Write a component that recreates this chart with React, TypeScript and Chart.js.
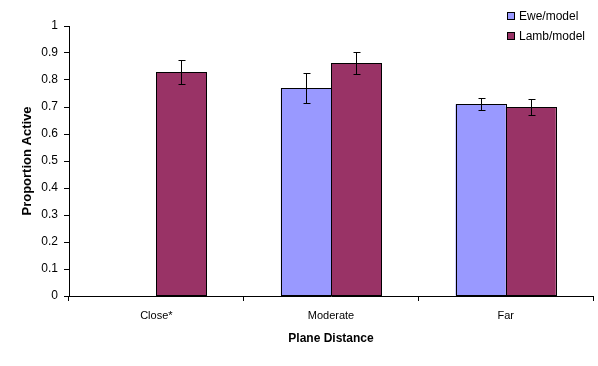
import React, { useEffect, useRef } from "react";
import { Chart, registerables } from "chart.js";

Chart.register(...registerables);

const categories = ["Close*", "Moderate", "Far"];
const seriesNames = ["Ewe/model", "Lamb/model"];
const eweValues = [null, 0.77, 0.71];
const lambValues = [0.83, 0.862, 0.7];
const eweErrors = [null, 0.055, 0.022];
const lambErrors = [0.043, 0.041, 0.028];
const colors = ["#9999FF", "#993366"];
const FONT = "'Liberation Sans', Arial, sans-serif";

const errorBarPlugin = {
  id: "errorBars",
  afterDatasetsDraw(chart: any) {
    const ctx = chart.ctx;
    const yScale = chart.scales.y;
    const errs = [eweErrors, lambErrors];
    ctx.save();
    ctx.strokeStyle = "#000";
    ctx.lineWidth = 1;
    // crisp bar outlines
    chart.data.datasets.forEach((ds: any, di: number) => {
      const meta = chart.getDatasetMeta(di);
      meta.data.forEach((bar: any, i: number) => {
        if (ds.data[i] == null) return;
        const l = Math.round(bar.x - bar.width / 2) + 0.5;
        const r = Math.round(bar.x + bar.width / 2) + 0.5;
        const t = Math.round(bar.y) + 0.5;
        const b = Math.round(bar.base) - 0.5;
        ctx.strokeRect(l, t, r - l, b - t);
      });
    });
    chart.data.datasets.forEach((ds: any, di: number) => {
      const meta = chart.getDatasetMeta(di);
      meta.data.forEach((bar: any, i: number) => {
        const v = ds.data[i];
        const e = errs[di][i];
        if (v == null || e == null) return;
        const x = Math.round(bar.x) + 0.5;
        const yt = Math.round(yScale.getPixelForValue(v + e)) + 0.5;
        const yb = Math.round(yScale.getPixelForValue(v - e)) + 0.5;
        ctx.beginPath();
        ctx.moveTo(x, yt);
        ctx.lineTo(x, yb);
        ctx.moveTo(x - 3, yt);
        ctx.lineTo(x + 4, yt);
        ctx.moveTo(x - 3, yb);
        ctx.lineTo(x + 4, yb);
        ctx.stroke();
      });
    });
    ctx.restore();
  },
};

const legendPlugin = {
  id: "customLegend",
  afterDraw(chart: any) {
    const ctx = chart.ctx;
    ctx.save();
    ctx.font = `12px ${FONT}`;
    ctx.textBaseline = "middle";
    seriesNames.forEach((name, i) => {
      const cy = 16 + i * 20;
      ctx.fillStyle = colors[i];
      ctx.fillRect(508, cy - 3, 6, 6);
      ctx.strokeStyle = "#000";
      ctx.lineWidth = 1;
      ctx.strokeRect(507.5, cy - 3.5, 7, 7);
      ctx.fillStyle = "#000";
      ctx.fillText(name, 519, cy + 1);
    });
    ctx.restore();
  },
};

export default function App() {
  const ref = useRef<HTMLCanvasElement>(null);
  useEffect(() => {
    if (!ref.current) return;
    const chart = new Chart(ref.current, {
      type: "bar",
      data: {
        labels: categories,
        datasets: [
          {
            label: seriesNames[0],
            data: eweValues as any,
            backgroundColor: colors[0],
            borderWidth: 0,
          },
          {
            label: seriesNames[1],
            data: lambValues,
            backgroundColor: colors[1],
            borderWidth: 0,
          },
        ],
      },
      options: {
        animation: false,
        responsive: false,
        maintainAspectRatio: false,
        layout: { padding: { top: 26, right: 5, left: 0, bottom: 0 } },
        datasets: { bar: { categoryPercentage: 0.574, barPercentage: 1 } },
        plugins: { legend: { display: false }, tooltip: { enabled: false } },
        scales: {
          x: {
            grid: {
              drawOnChartArea: false,
              color: "#000",
              tickLength: 5,
              offset: true,
            },
            border: { color: "#000", width: 1 },
            ticks: { color: "#000", font: { family: FONT, size: 11 }, padding: 8, maxRotation: 0 },
            title: {
              display: true,
              text: "Plane Distance",
              color: "#000",
              font: { family: FONT, size: 12, weight: "bold" },
              padding: { top: 0, bottom: 20 },
            },
            afterFit: (s: any) => {
              s.height = 70;
            },
          },
          y: {
            min: 0,
            max: 1,
            grid: { drawOnChartArea: false, color: "#000", tickLength: 5 },
            border: { color: "#000", width: 1 },
            ticks: {
              stepSize: 0.1,
              color: "#000",
              font: { family: FONT, size: 12 },
              padding: 6,
              callback: (v: any) => String(Math.round(v * 10) / 10),
            },
            title: {
              display: true,
              text: "Proportion Active",
              color: "#000",
              font: { family: FONT, size: 13, weight: "bold" },
              padding: { top: 20, bottom: 0 },
            },
            afterFit: (s: any) => {
              s.width = 69;
            },
          },
        },
      },
      plugins: [errorBarPlugin, legendPlugin],
    });
    return () => chart.destroy();
  }, []);
  return (
    <div style={{ position: "fixed", left: 0, top: 0, width: 598, height: 366, background: "#fff" }}>
      <canvas ref={ref} width={598} height={366} style={{ width: 598, height: 366 }} />
    </div>
  );
}
